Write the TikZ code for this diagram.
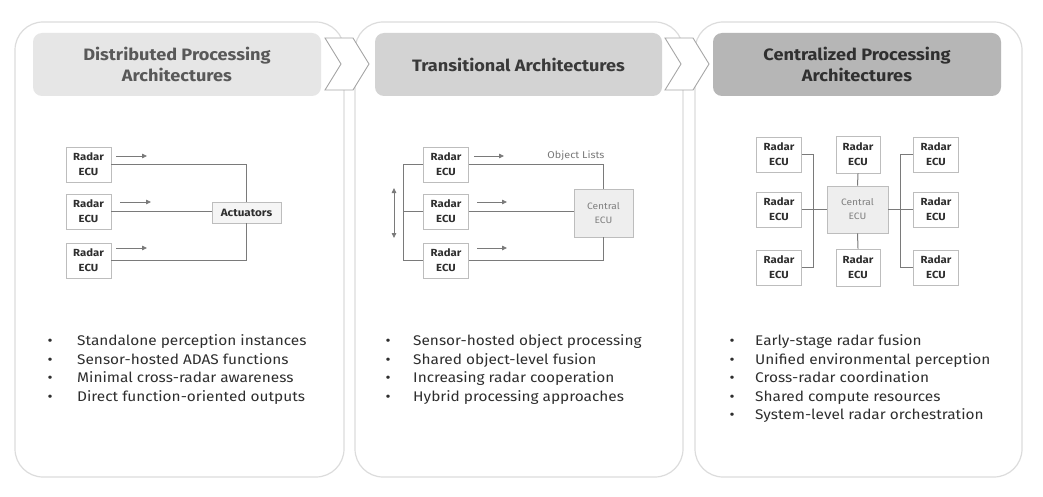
\documentclass[tikz,border=0pt]{standalone}
\usepackage{fontspec}
\setmainfont{Fira Sans}[FakeStretch=1.1]
\usetikzlibrary{arrows.meta}
\definecolor{pborder}{HTML}{DCDCDC}
\definecolor{hOne}{HTML}{E6E6E6}
\definecolor{hTwo}{HTML}{D3D3D3}
\definecolor{hThree}{HTML}{B6B6B6}
\definecolor{tOne}{HTML}{595959}
\definecolor{tTwo}{HTML}{3A3A3A}
\definecolor{tThree}{HTML}{303030}
\definecolor{boxline}{HTML}{BDBDBD}
\definecolor{wire}{HTML}{7A7A7A}
\definecolor{cfill}{HTML}{EEEEEE}
\definecolor{txt}{HTML}{2E2E2E}
\tikzset{
  panel/.style={draw=pborder, line width=1.2pt, fill=white, rounded corners=28pt},
  header/.style={rounded corners=9pt, draw=none},
  chev/.style={draw=gray!70, fill=white, line width=0.9pt, line join=miter},
  ttl/.style={font=\fontsize{16.5}{21}\selectfont\bfseries, align=center},
  radar/.style={draw=boxline, line width=0.9pt, fill=white, minimum width=45pt, minimum height=35pt, inner sep=0pt, align=center, font=\fontsize{10.3}{15}\selectfont\bfseries, text=txt},
  act/.style={draw=boxline, line width=0.9pt, fill=cfill!60, minimum width=69pt, minimum height=21pt, inner sep=0pt, font=\fontsize{10.6}{12}\selectfont\bfseries, text=txt},
  central/.style={draw=boxline, line width=0.9pt, fill=cfill, inner sep=0pt, align=center, font=\fontsize{9.3}{14}\selectfont, text=gray},
  wirestyle/.style={draw=wire, line width=1pt},
  smallarrow/.style={draw=wire, line width=0.8pt, -{Triangle[length=5pt,width=4.5pt]}},
  item/.style={anchor=base west, inner sep=0pt, font=\fontsize{14}{16}\selectfont, text=txt},
  bul/.style={anchor=base, inner sep=0pt, font=\fontsize{14}{16}\selectfont, text=txt},
}
\begin{document}
\begin{tikzpicture}[x=1pt,y=-1pt]
\useasboundingbox (0,0) rectangle (1043,497);
% panels
\draw[panel] (15,22) rectangle (344,477);
\draw[panel] (355,22) rectangle (683,477);
\draw[panel] (695,22) rectangle (1022,477);
% headers
\fill[header, hOne] (33,33) rectangle (321,96);
\fill[header, hTwo] (375,33) rectangle (662,96);
\fill[header, hThree] (713,33) rectangle (1001,96);
\node[ttl, text=tOne] (h1) at (177,64.5) {Distributed Processing\\Architectures};
\node[ttl, text=tTwo] (h2) at (518.5,64.5) {Transitional Architectures};
\node[ttl, text=tThree] (h3) at (857,64.5) {Centralized Processing\\Architectures};
% chevrons
\draw[chev] (325,38) -- (353,38) -- (369,64) -- (353,90) -- (325,90) -- (341,64) -- cycle;
\draw[chev] (665,38) -- (693,38) -- (709,64) -- (693,90) -- (665,90) -- (681,64) -- cycle;

% ---------- diagram 1
\node[radar] (a1) at (88.5,164.5) {Radar\\ECU};
\node[radar] (a2) at (88.5,211.5) {Radar\\ECU};
\node[radar] (a3) at (88.5,260.5) {Radar\\ECU};
\node[act] (act) at (246.5,212.5) {Actuators};
\draw[wirestyle] (a1.east) -| (act.north);
\draw[wirestyle] (a2.east) -- (a2.east -| act.west);
\draw[wirestyle] (a3.east) -| (act.south);
\coordinate (p1s) at (116,156); \coordinate (p1e) at (147,156);
\coordinate (p2s) at (120,202); \coordinate (p2e) at (151,202);
\coordinate (p3s) at (116,248); \coordinate (p3e) at (147,248);
\draw[smallarrow] (p1s) -- (p1e);
\draw[smallarrow] (p2s) -- (p2e);
\draw[smallarrow] (p3s) -- (p3e);

% ---------- diagram 2
\node[radar] (b1) at (446,164.5) {Radar\\ECU};
\node[radar] (b2) at (446,211.5) {Radar\\ECU};
\node[radar] (b3) at (446,260.5) {Radar\\ECU};
\node[central, minimum width=59pt, minimum height=48pt] (bc) at (603.5,213) {Central\\ECU};
\draw[wirestyle] (b1.east) -| (bc.north);
\draw[wirestyle] (b2.east) -- (b2.east -| bc.west);
\draw[wirestyle] (b3.east) -| (bc.south);
\draw[wirestyle] (b1.west) -- ++(-20,0) |- (b3.west);
\draw[wirestyle] (b2.west) -- ++(-20,0);
\coordinate (dtop) at (394,188); \coordinate (dbot) at (394,238);
\draw[wire, line width=0.8pt, {Triangle[length=5pt,width=4.5pt]}-{Triangle[length=5pt,width=4.5pt]}] (dtop) -- (dbot);
\coordinate (q1s) at (474,156); \coordinate (q1e) at (504,156);
\coordinate (q2s) at (477,202); \coordinate (q2e) at (507,202);
\coordinate (q3s) at (477,248); \coordinate (q3e) at (507,248);
\draw[smallarrow] (q1s) -- (q1e);
\draw[smallarrow] (q2s) -- (q2e);
\draw[smallarrow] (q3s) -- (q3e);
\node[font=\fontsize{9.8}{12}\selectfont, text=gray!95!black] (ol) at (576,156) {Object Lists};

% ---------- diagram 3
\node[radar] (l1) at (779,154.5) {Radar\\ECU};
\node[radar] (l2) at (779,209.5) {Radar\\ECU};
\node[radar] (l3) at (779,267.5) {Radar\\ECU};
\node[radar, minimum width=44pt, minimum height=37pt] (mt) at (858,154.5) {Radar\\ECU};
\node[radar, minimum width=44pt, minimum height=37pt] (mb) at (858,267.5) {Radar\\ECU};
\node[radar] (r1) at (936,154.5) {Radar\\ECU};
\node[radar] (r2) at (936,209.5) {Radar\\ECU};
\node[radar] (r3) at (936,267.5) {Radar\\ECU};
\node[central, minimum width=61pt, minimum height=47pt] (cc) at (857.5,209.5) {Central\\ECU};
\coordinate (lb) at (813,209.5);
\coordinate (rb) at (900,209.5);
\draw[wirestyle] (l1.east) -| (lb) |- (l3.east);
\draw[wirestyle] (l2.east) -- (cc.west);
\draw[wirestyle] (r1.west) -| (rb) |- (r3.west);
\draw[wirestyle] (cc.east) -- (r2.west);
\draw[wirestyle] (mt.south) -- (cc.north);
\draw[wirestyle] (mb.north) -- (cc.south);

% ---------- bullet lists
\foreach \t [count=\i] in {Standalone perception instances, Sensor-hosted ADAS functions, Minimal cross-radar awareness, Direct function-oriented outputs}{
  \node[bul] (bd\i) at (50,{340.5+18.5*(\i-1)+5}) {•};
  \node[item] (ld\i) at (77,{340.5+18.5*(\i-1)+5}) {\t};
}
\foreach \t [count=\i] in {Sensor-hosted object processing, Shared object-level fusion, Increasing radar cooperation, Hybrid processing approaches}{
  \node[bul] (bt\i) at (388,{340.5+18.5*(\i-1)+5}) {•};
  \node[item] (lt\i) at (413,{340.5+18.5*(\i-1)+5}) {\t};
}
\foreach \t [count=\i] in {Early-stage radar fusion, Unified environmental perception, Cross-radar coordination, Shared compute resources, System-level radar orchestration}{
  \node[bul] (bc\i) at (732,{340.5+18.5*(\i-1)+5}) {•};
  \node[item] (lc\i) at (755,{340.5+18.5*(\i-1)+5}) {\t};
}
\end{tikzpicture}
\end{document}
